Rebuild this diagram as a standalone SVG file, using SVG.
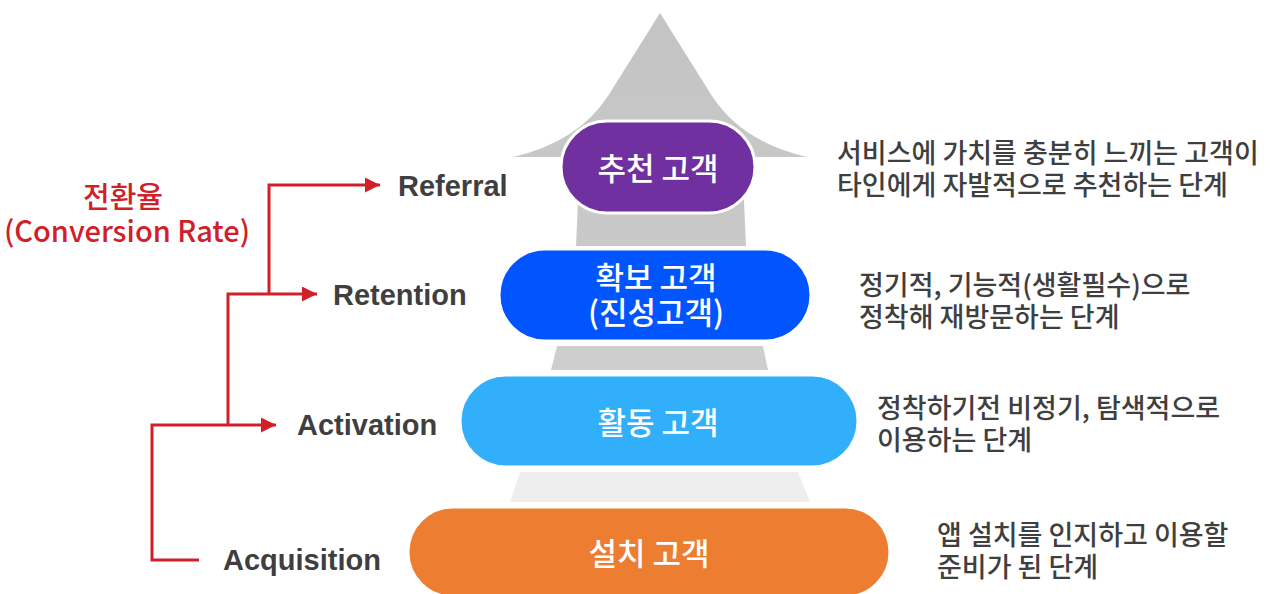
<svg xmlns="http://www.w3.org/2000/svg" width="1277" height="594" viewBox="0 0 1277 594">
  <style>
    .pill-text { font-family: "Noto Sans CJK KR", "Noto Sans", sans-serif; font-size: 31px; font-weight: 500; fill: #ffffff; text-anchor: middle; }
    .stage { font-family: "Liberation Sans", Arial, sans-serif; font-size: 29px; font-weight: bold; fill: #3f3f3f; }
    .desc { font-family: "Noto Sans CJK KR", "Noto Sans", sans-serif; font-size: 27px; font-weight: 500; fill: #3f3f3f; }
    .rate { font-family: "Noto Sans CJK KR", "Noto Sans", sans-serif; font-size: 29px; font-weight: 500; fill: #d0202a; text-anchor: middle; }
    .flow { fill: none; stroke: #d0202a; stroke-width: 3; }
    .pill { stroke: #ffffff; stroke-width: 3; }
  </style>
  <defs>
    <marker id="arrow" viewBox="0 0 10 10" refX="10" refY="5" markerWidth="17" markerHeight="15" markerUnits="userSpaceOnUse" orient="auto">
      <path d="M0,0 L10,5 L0,10 Z" fill="#d0202a"/>
    </marker>
    <linearGradient id="shaftGrad" x1="0" y1="0" x2="0" y2="1">
      <stop offset="0" stop-color="#c4c4c4"/>
      <stop offset="1" stop-color="#c9c9c9"/>
    </linearGradient>
  </defs>

  <rect width="1277" height="594" fill="#ffffff"/>

  <!-- upward arrow behind the funnel -->
  <g id="growth-arrow">
    <path d="M660,13 L608,96 Q578,142 513,157 L580,157 L576,246 L746,246 L742,157 L807,157 Q742,142 712,96 Z" fill="url(#shaftGrad)"/>
    <path d="M557,346 L763,346 L768,370 L551,370 Z" fill="#cecece"/>
    <path d="M520,472 L798,472 L810,502 L510,502 Z" fill="#eeeeee"/>
  </g>

  <!-- funnel stages -->
  <g id="node-referral">
    <rect class="pill" x="561" y="121" width="194" height="92" rx="46" fill="#7030a0"/>
    <text class="pill-text" x="658" y="180">추천 고객</text>
  </g>
  <g id="node-retention">
    <rect class="pill" x="499" y="249" width="312" height="92" rx="46" fill="#0055ff"/>
    <text class="pill-text" x="656" y="289">확보 고객</text>
    <text class="pill-text" x="656" y="324">(진성고객)</text>
  </g>
  <g id="node-activation">
    <rect class="pill" x="460" y="375" width="398" height="92" rx="46" fill="#31affb"/>
    <text class="pill-text" x="658" y="434">활동 고객</text>
  </g>
  <g id="node-acquisition">
    <rect class="pill" x="408" y="507" width="482" height="90" rx="45" fill="#ed7d31"/>
    <text class="pill-text" x="649" y="565">설치 고객</text>
  </g>

  <!-- stage names -->
  <g id="label-referral"><text class="stage" x="398" y="196">Referral</text></g>
  <g id="label-retention"><text class="stage" x="333" y="305">Retention</text></g>
  <g id="label-activation"><text class="stage" x="297" y="435">Activation</text></g>
  <g id="label-acquisition"><text class="stage" x="223" y="570">Acquisition</text></g>

  <!-- conversion rate caption -->
  <g id="label-rate">
    <text class="rate" x="123" y="208">전환율</text>
    <text class="rate" x="127" y="242">(Conversion Rate)</text>
  </g>

  <!-- stage descriptions -->
  <g id="desc-referral">
    <text class="desc" x="837" y="163">서비스에 가치를 충분히 느끼는 고객이</text>
    <text class="desc" x="837" y="195">타인에게 자발적으로 추천하는 단계</text>
  </g>
  <g id="desc-retention">
    <text class="desc" x="859" y="295">정기적, 기능적(생활필수)으로</text>
    <text class="desc" x="859" y="327">정착해 재방문하는 단계</text>
  </g>
  <g id="desc-activation">
    <text class="desc" x="877" y="418">정착하기전 비정기, 탐색적으로</text>
    <text class="desc" x="877" y="450">이용하는 단계</text>
  </g>
  <g id="desc-acquisition">
    <text class="desc" x="937" y="545">앱 설치를 인지하고 이용할</text>
    <text class="desc" x="937" y="577">준비가 된 단계</text>
  </g>

  <!-- conversion connectors -->
  <g id="connectors">
    <path class="flow" d="M199,560 L152,560 L152,425 L276,425" marker-end="url(#arrow)"/>
    <path class="flow" d="M228,425 L228,294 L317,294" marker-end="url(#arrow)"/>
    <path class="flow" d="M269,294 L269,185 L380,185" marker-end="url(#arrow)"/>
  </g>
</svg>
